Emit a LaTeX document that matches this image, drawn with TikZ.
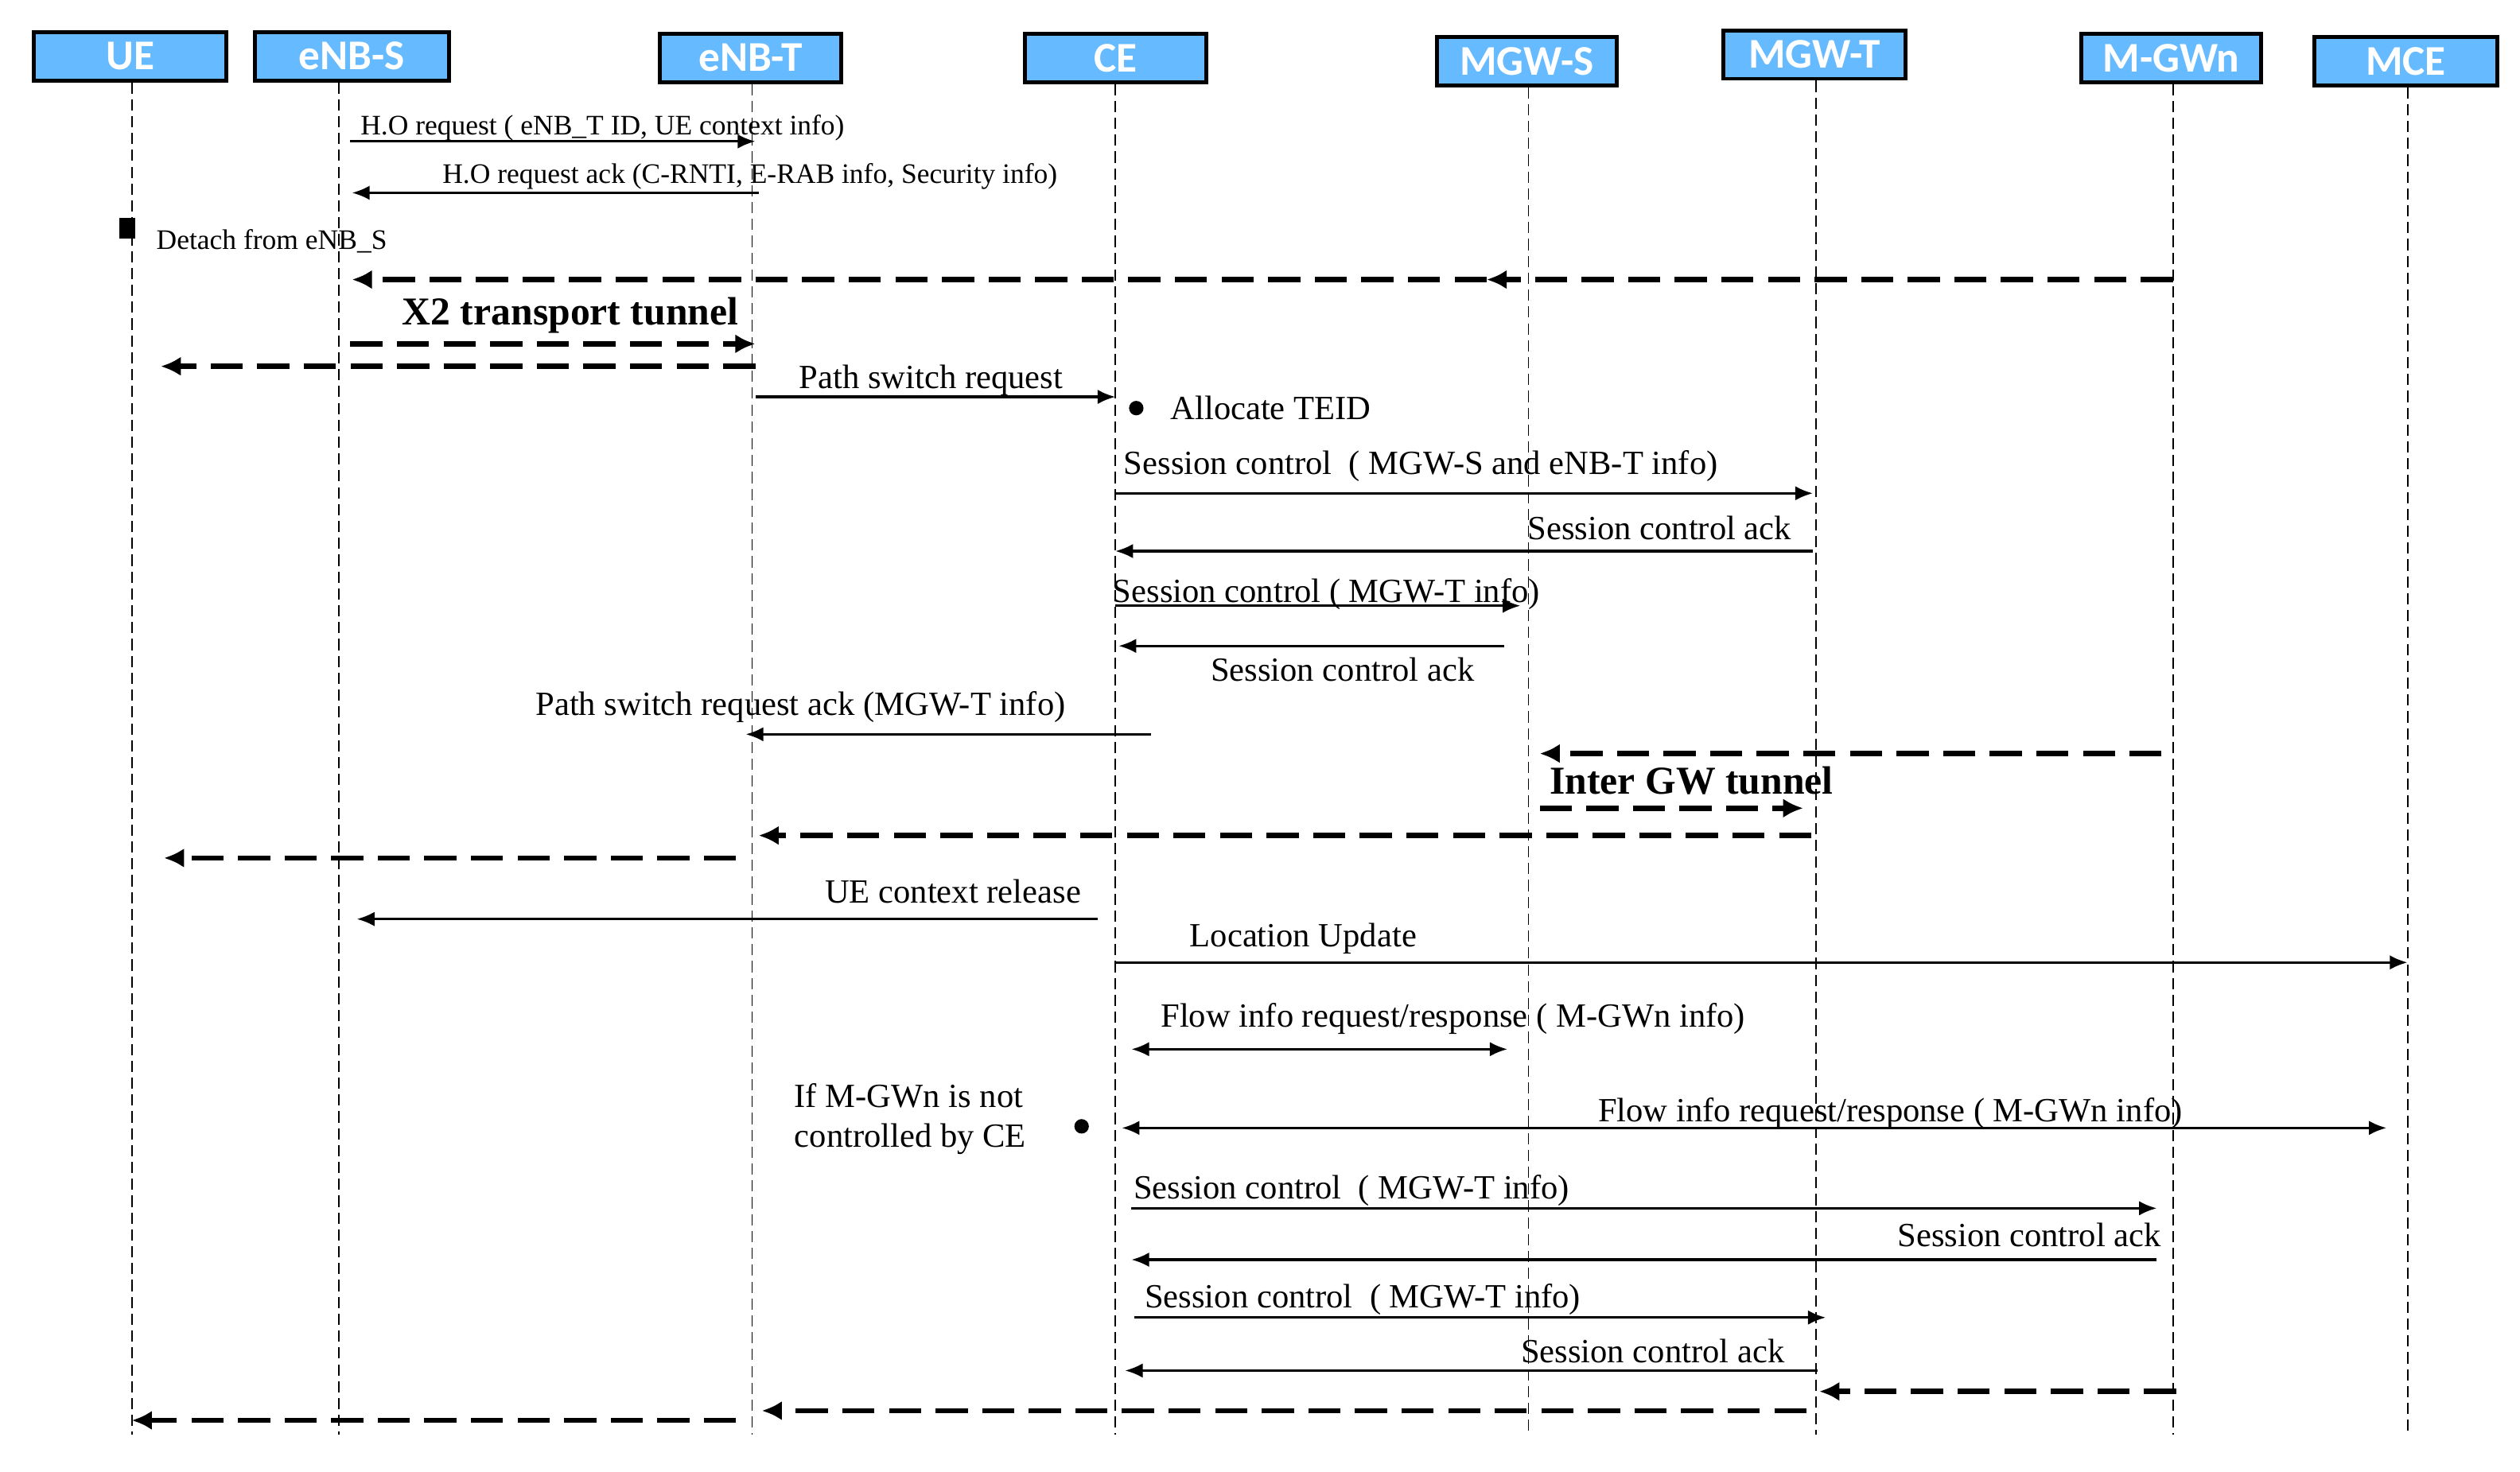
\documentclass[tikz,border=0pt]{standalone}
\usepackage{fontspec}
\setmainfont{Liberation Serif}
\newfontfamily\hdfont{Carlito}
\usetikzlibrary{arrows.meta}
\tikzset{
  head/.style={draw=black,line width=1.4pt,fill=blue!45!cyan!60!white,text=white,
    font=\hdfont\bfseries\fontsize{15}{15}\selectfont,minimum height=0.6cm,inner sep=0pt},
  life/.style={line width=0.5pt,dash pattern=on 0.14cm off 0.07cm},
  msg/.style={line width=0.9pt,-{Latex[length=0.22cm,width=0.18cm]}},
  both/.style={line width=0.9pt,{Latex[length=0.22cm,width=0.18cm]}-{Latex[length=0.22cm,width=0.18cm]}},
  tun/.style={line width=1.9pt,dash pattern=on 0.4cm off 0.18cm,-{Latex[length=0.25cm,width=0.24cm]}},
  lbl/.style={anchor=base west,inner sep=0pt,font=\fontsize{12}{12}\selectfont},
  small/.style={anchor=base west,inner sep=0pt,font=\fontsize{10}{10}\selectfont},
  big/.style={anchor=base west,inner sep=0pt,font=\bfseries\fontsize{14}{14}\selectfont},
}
\begin{document}
\begin{tikzpicture}[x=0.02cm,y=-0.02cm]
    \useasboundingbox (0,0) rectangle (1568,916);
    % Lifeline headers
    \node[head,minimum width=2.4cm] (ue) at (81,35) {UE};
    \node[head,minimum width=2.42cm] (enbs) at (219,35) {eNB-S};
    \node[head,minimum width=2.26cm] (enbt) at (467,36) {eNB-T};
    \node[head,minimum width=2.26cm] (ce) at (694,36) {CE};
    \node[head,minimum width=2.24cm] (mgws) at (950,38) {MGW-S};
    \node[head,minimum width=2.26cm] (mgwt) at (1129,34) {MGW-T};
    \node[head,minimum width=2.24cm] (mgwn) at (1351,36) {M-GWn};
    \node[head,minimum width=2.28cm] (mce) at (1497,38) {MCE};
    % Lifelines
    \coordinate (ue-e) at (82,893);
    \coordinate (enbs-e) at (211,893);
    \coordinate (enbt-e) at (468,893);
    \coordinate (ce-e) at (694,893);
    \coordinate (mgws-e) at (951,893);
    \coordinate (mgwt-e) at (1130,893);
    \coordinate (mgwn-e) at (1352,893);
    \coordinate (mce-e) at (1498,893);
    \draw[life] (ue.south -| ue-e) -- (ue-e);
    \draw[life] (enbs.south -| enbs-e) -- (enbs-e);
    \draw[life] (enbt.south -| enbt-e) -- (enbt-e);
    \draw[life] (ce.south -| ce-e) -- (ce-e);
    \draw[life] (mgws.south -| mgws-e) -- (mgws-e);
    \draw[life] (mgwt.south -| mgwt-e) -- (mgwt-e);
    \draw[life] (mgwn.south -| mgwn-e) -- (mgwn-e);
    \draw[life] (mce.south -| mce-e) -- (mce-e);
    % Handover preparation
    \coordinate (a1) at (218,88);  \coordinate (b1) at (470,88);
    \draw[msg] (a1) -- (b1);
    \node[small] (t1) at (224,84) {H.O request ( eNB\_T ID, UE context info)};
    \coordinate (a2) at (472,120); \coordinate (b2) at (219,120);
    \draw[msg] (a2) -- (b2);
    \node[small] (t2) at (275,114) {H.O request ack (C-RNTI, E-RAB info, Security info)};
    \node[fill=black,minimum width=0.2cm,minimum height=0.26cm,inner sep=0pt] (sq) at (79,142) {};
    \node[small] (t3) at (97,155) {Detach from eNB\_S};
    % X2 tunnel
    \coordinate (a4) at (1352,174); \coordinate (m4) at (925,174); \coordinate (b4) at (219,174);
    \draw[tun] (a4) -- (m4);
    \draw[tun] (m4) -- (b4);
    \node[big] (t5) at (250,202) {X2 transport tunnel};
    \coordinate (a6) at (218,214); \coordinate (b6) at (470,214);
    \draw[tun] (a6) -- (b6);
    \coordinate (a7) at (470,228); \coordinate (b7) at (100,228);
    \draw[tun] (a7) -- (b7);
    % Path switch
    \coordinate (a8) at (470,247); \coordinate (b8) at (694,247);
    \draw[msg] (a8) -- (b8);
    \node[lbl] (t8) at (497,242) {Path switch request};
    \fill (707,254) circle (0.09cm);
    \node[lbl] (t9) at (728,261) {Allocate TEID};
    \coordinate (a10) at (694,307); \coordinate (b10) at (1128,307);
    \draw[msg] (a10) -- (b10);
    \node[lbl] (t10) at (699,295) {Session control\ \ ( MGW-S and eNB-T info)};
    \coordinate (a11) at (1128,343); \coordinate (b11) at (694,343);
    \draw[msg] (a11) -- (b11);
    \node[lbl,anchor=base east] (t11) at (1115,336) {Session control ack};
    \coordinate (a12) at (694,377); \coordinate (b12) at (946,377);
    \draw[msg] (a12) -- (b12);
    \node[lbl] (t12) at (692,375) {Session control ( MGW-T info)};
    \coordinate (a13) at (936,402); \coordinate (b13) at (696,402);
    \draw[msg] (a13) -- (b13);
    \node[lbl] (t13) at (753,424) {Session control ack};
    \coordinate (a14) at (716,457); \coordinate (b14) at (464,457);
    \draw[msg] (a14) -- (b14);
    \node[lbl] (t14) at (333,445) {Path switch request ack (MGW-T info)};
    % Inter GW tunnel
    \coordinate (a15) at (1345,469); \coordinate (b15) at (958,469);
    \draw[tun] (a15) -- (b15);
    \node[big] (t16) at (964,494) {Inter GW tunnel};
    \coordinate (a17) at (958,503); \coordinate (b17) at (1122,503);
    \draw[tun] (a17) -- (b17);
    \coordinate (a18) at (1127,520); \coordinate (b18) at (472,520);
    \draw[tun] (a18) -- (b18);
    \coordinate (a19) at (458,534); \coordinate (b19) at (102,534);
    \draw[tun] (a19) -- (b19);
    % Release and location update
    \coordinate (a20) at (683,572); \coordinate (b20) at (222,572);
    \draw[msg] (a20) -- (b20);
    \node[lbl] (t20) at (513,562) {UE context release};
    \coordinate (a21) at (694,599); \coordinate (b21) at (1498,599);
    \draw[msg] (a21) -- (b21);
    \node[lbl] (t21) at (740,589) {Location Update};
    \coordinate (a22) at (704,653); \coordinate (b22) at (938,653);
    \draw[both] (a22) -- (b22);
    \node[lbl] (t22) at (722,639) {Flow info request/response ( M-GWn info)};
    \fill (673,701) circle (0.09cm);
    \node[lbl,align=left,anchor=north west] (t23) at (494,674) {If M-GWn is not\\[2pt]controlled by CE};
    \coordinate (a24) at (698,702); \coordinate (b24) at (1485,702);
    \draw[both] (a24) -- (b24);
    \node[lbl] (t24) at (994,698) {Flow info request/response ( M-GWn info)};
    % Session control with M-GWn and MGW-T
    \coordinate (a25) at (704,752); \coordinate (b25) at (1342,752);
    \draw[msg] (a25) -- (b25);
    \node[lbl] (t25) at (705,746) {Session control\ \ ( MGW-T info)};
    \coordinate (a26) at (1342,784); \coordinate (b26) at (704,784);
    \draw[msg] (a26) -- (b26);
    \node[lbl,anchor=base east] (t26) at (1345,776) {Session control ack};
    \coordinate (a27) at (706,820); \coordinate (b27) at (1136,820);
    \draw[msg] (a27) -- (b27);
    \node[lbl] (t27) at (712,814) {Session control\ \ ( MGW-T info)};
    \coordinate (a28) at (1131,853); \coordinate (b28) at (700,853);
    \draw[msg] (a28) -- (b28);
    \node[lbl] (t28) at (946,848) {Session control ack};
    \coordinate (a29) at (1354,866); \coordinate (b29) at (1132,866);
    \draw[tun] (a29) -- (b29);
    \coordinate (a30) at (1124,878); \coordinate (b30) at (474,878);
    \draw[tun] (a30) -- (b30);
    \coordinate (a31) at (458,884); \coordinate (b31) at (82,884);
    \draw[tun] (a31) -- (b31);
\end{tikzpicture}
\end{document}
